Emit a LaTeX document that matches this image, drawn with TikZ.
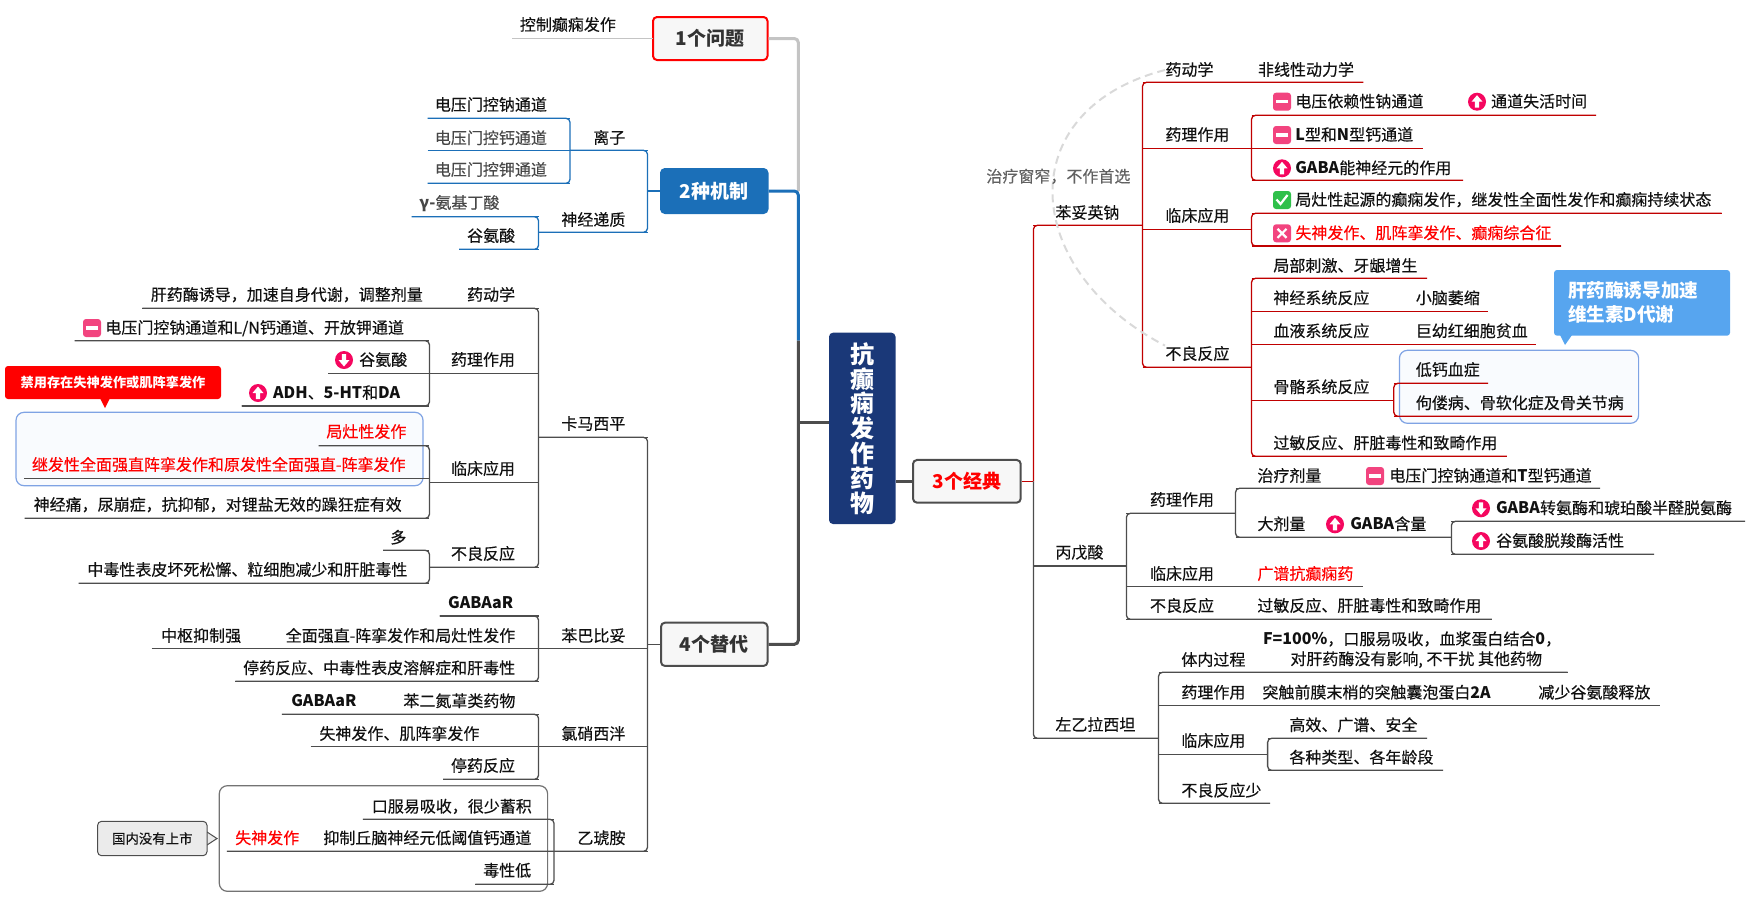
\documentclass[tikz,border=0pt]{standalone}
\usepackage{fontspec}
\setmainfont{Noto Sans CJK SC}[UprightFeatures={FakeBold=0.32}]
\usetikzlibrary{calc}
\definecolor{cBlue}{HTML}{1B6FB8}
\definecolor{cGray}{HTML}{C4C4C4}
\definecolor{cDark}{HTML}{4D4D4D}
\definecolor{cRed}{HTML}{C00000}
\definecolor{cInk}{HTML}{111111}
\definecolor{cNavy}{HTML}{1A3878}
\definecolor{cPink}{HTML}{F2447F}
\definecolor{cRose}{HTML}{F5075F}
\definecolor{cGreen}{HTML}{2FC04A}
\definecolor{cSky}{HTML}{57A5EF}
\definecolor{cEdge}{HTML}{7FA3E4}
\definecolor{cPale}{HTML}{F9FBFE}
\tikzset{
  lab/.style={anchor=west,inner sep=0pt,text=cInk,font=\fontsize{8pt}{9pt}\selectfont,text height=6.8pt,text depth=1.2pt},
  redlab/.style={lab,text=red},
  greylab/.style={lab,text=black!72},
  lnB/.style={draw=cBlue,line width=0.65pt,rounded corners=2pt},
  lnG/.style={draw=cGray,line width=0.65pt,rounded corners=2pt},
  lnD/.style={draw=cDark,line width=0.65pt,rounded corners=2pt},
  lnR/.style={draw=cRed,line width=0.65pt,rounded corners=2pt},
  tbox/.style={rectangle,rounded corners=2pt,line width=1pt,font=\fontsize{9.5pt}{11pt}\selectfont\bfseries,inner sep=0pt},
  bound/.style={rectangle,rounded corners=4pt,line width=0.6pt,inner sep=0pt},
  thick1/.style={line width=1.5pt,rounded corners=2pt}
}
% underline of a topic: two named end points and the rule between them
\newcommand{\ul}[5]{\coordinate (#1-l) at (#2,#4);\coordinate (#1-r) at (#3,#4);\draw[#5] (#1-l) -- (#1-r);}
% spine on the right end of the children (left side of the map)
\newcommand{\spL}[3]{\draw[#1] (#2-l) -- (#2-r) -- (#3-r) -- (#3-l);}
% spine on the left end of the children (right side of the map)
\newcommand{\spR}[3]{\draw[#1] (#2-r) -- (#2-l) -- (#3-l) -- (#3-r);}
\newcommand{\icMinus}[2]{\begin{scope}[shift={(#1,#2)}]\fill[cPink,rounded corners=1.5pt] (-9,-9) rectangle (9,9);\fill[white] (-6,-1.6) rectangle (6,1.6);\end{scope}}
\newcommand{\icUp}[2]{\begin{scope}[shift={(#1,#2)}]\fill[cRose] (0,0) circle[radius=9];\fill[white] (0,-6.5)--(5.5,0)--(2.2,0)--(2.2,6)--(-2.2,6)--(-2.2,0)--(-5.5,0)--cycle;\end{scope}}
\newcommand{\icDown}[2]{\begin{scope}[shift={(#1,#2)}]\fill[cRose] (0,0) circle[radius=9];\fill[white] (0,6.5)--(5.5,0)--(2.2,0)--(2.2,-6)--(-2.2,-6)--(-2.2,0)--(-5.5,0)--cycle;\end{scope}}
\newcommand{\icCheck}[2]{\begin{scope}[shift={(#1,#2)}]\fill[cGreen,rounded corners=1.5pt] (-9,-9) rectangle (9,9);\draw[white,line width=1.1pt] (-5.5,-0.5)--(-1.5,4)--(5.5,-5);\end{scope}}
\newcommand{\icCross}[2]{\begin{scope}[shift={(#1,#2)}]\fill[cPink,rounded corners=1.5pt] (-9,-9) rectangle (9,9);\draw[white,line width=1.1pt] (-4.5,-4.5)--(4.5,4.5) (-4.5,4.5)--(4.5,-4.5);\end{scope}}
\begin{document}
\begin{tikzpicture}[x=0.5pt,y=-0.5pt]
\useasboundingbox (0,0) rectangle (1748,905);
% ---------- boundaries and callouts
\node[bound,draw=cEdge,fill=cPale,minimum width=203.5pt,minimum height=36.7pt] (bndA) at (219.5,449) {};
\node[bound,draw=cEdge,fill=cPale,minimum width=119.6pt,minimum height=36.5pt] (bndB) at (1519,386.8) {};
\node[bound,draw=black!55,fill=white,minimum width=164.15pt,minimum height=52.8pt] (bndC) at (383.45,838.5) {};
\fill[red] (100,398)--(105,408)--(110,398)--cycle;
\node[rectangle,rounded corners=1.5pt,fill=red,text=white,minimum width=108pt,minimum height=16.5pt,inner sep=0pt,font=\fontsize{6.6pt}{8pt}\selectfont\bfseries] (warn) at (113,382.5) {禁用存在失神发作或肌阵挛发作};
\fill[black!8] (205,832)--(217,838.5)--(205,845)--cycle;
\draw[black!70,line width=0.5pt] (207,832)--(217,838.5)--(207,845);
\node[rectangle,rounded corners=2pt,draw=black!70,fill=black!8,line width=0.5pt,minimum width=54.7pt,minimum height=17.2pt,inner sep=0pt,text=cInk,font=\fontsize{6.7pt}{8pt}\selectfont] (note) at (152.3,838.5) {国内没有上市};
% ---------- central node and main topics
\node[rectangle,rounded corners=2pt,fill=cNavy,text=white,minimum width=33.25pt,minimum height=95.65pt,inner sep=0pt,align=center,font=\fontsize{12pt}{12.4pt}\selectfont\bfseries] (root) at (862.25,428.35) {抗\\癫\\痫\\发\\作\\药\\物};
\node[tbox,draw=red,fill=black!3,text=black!80,minimum width=57.25pt,minimum height=21.5pt] (q1) at (710.25,38.5) {1个问题};
\node[tbox,draw=cBlue,fill=cBlue,text=white,minimum width=53.25pt,minimum height=22pt] (q2) at (714.25,191) {2种机制};
\node[tbox,draw=cDark,fill=black!3,text=black!80,minimum width=53.25pt,minimum height=21.65pt] (q4) at (714.25,644.3) {4个替代};
\node[tbox,draw=cDark,fill=black!3,text=red,minimum width=53.85pt,minimum height=21.35pt] (q3) at (966.85,481.3) {3个经典};
% ---------- thick main connectors
\coordinate (hubA) at (798.3,191);
\coordinate (hubB) at (798.3,340.7);
\coordinate (hubC) at (798.3,422);
\coordinate (spineR) at (1033.4,481.3);
\draw[thick1,cGray] (q1.east) -| (hubA);
\draw[thick1,cBlue] (q2.east) -| (hubB);
\draw[thick1,cDark] (q4.east) -| (hubB);
\draw[thick1,cDark] (hubC) -- (hubC -| root.west);
\draw[thick1,cDark] (root.east |- q3.west) -- (q3.west);
% ---------- 1
\ul{aim}{512}{653}{38.3}{lnG}
\node[lab] (aimT) at (519.5,25) {控制癫痫发作};
% ---------- 2
\ul{ion}{570}{647.5}{150.3}{lnB}
\ul{neu}{538.5}{647.5}{232.3}{lnB}
\draw[lnB] (ion-l) -- (ion-r) -- (neu-r) -- (neu-l);
\draw[lnB] (q2.west) -- (q2.west -| ion-r);
\node[lab] (ionT) at (593,138) {离子};
\node[lab] (neuT) at (561,220) {神经递质};
\ul{na}{427.7}{570}{118.3}{lnB}
\ul{ca}{427.7}{570}{150.3}{lnB}
\ul{k}{427.7}{570}{183.3}{lnB}
\spL{lnB}{na}{k}
\node[lab] (naT) at (434.5,105) {电压门控钠通道};
\node[greylab] (caT) at (434.5,138.3) {电压门控钙通道};
\node[greylab] (kT) at (434.5,170) {电压门控钾通道};
\ul{gab}{411.6}{538.5}{216.7}{lnB}
\ul{glu}{459}{538.5}{249.3}{lnB}
\spL{lnB}{gab}{glu}
\node[greylab] (gabT) at (419,203) {\textbf{γ-}氨基丁酸};
\node[lab] (gluT) at (466.7,236) {谷氨酸};
% ---------- 4: spine
\ul{cbz}{538.5}{647.5}{437.3}{lnD}
\ul{pb}{151.5}{647.5}{648.3}{lnD}
\ul{czp}{310.6}{647.5}{746.3}{lnD}
\ul{etx}{226.8}{647.5}{851.3}{lnD}
\draw[lnD] (cbz-l) -- (cbz-r) -- (etx-r) -- (etx-l);
\draw[lnD] (q4.west) -- (q4.west -| cbz-r);
\node[lab] (cbzT) at (561,424) {卡马西平};
\node[lab] (pbT) at (561,636) {苯巴比妥};
\node[lab] (czpT) at (561,734) {氯硝西泮};
\node[lab] (etxT) at (577,838.3) {乙琥胺};
% carbamazepine
\ul{cPk}{142.4}{538.5}{308.3}{lnD}
\ul{cPh}{429.4}{538.5}{373.3}{lnD}
\ul{cCl}{429.4}{538.5}{482.3}{lnD}
\ul{cAd}{429.4}{538.5}{567.3}{lnD}
\spL{lnD}{cPk}{cAd}
\node[lab] (cPkA) at (466.7,295) {药动学};
\node[lab] (cPkB) at (150.4,295) {肝药酶诱导，加速自身代谢，调整剂量};
\node[lab] (cPhT) at (450.6,360) {药理作用};
\node[lab] (cClT) at (450.6,469) {临床应用};
\node[lab] (cAdT) at (450.6,554) {不良反应};
\ul{cP1}{74.6}{429.4}{340.7}{lnD}
\ul{cP2}{328.4}{429.4}{373.3}{lnD}
\ul{cP3}{241.7}{429.4}{406}{lnD}
\spL{lnD}{cP1}{cP3}
\icMinus{92}{328}
\node[lab] (cP1T) at (105,328) {电压门控钠通道和L/N钙通道、开放钾通道};
\icDown{344}{360}
\node[lab] (cP2T) at (358.8,360) {谷氨酸};
\icUp{258}{393}
\node[lab] (cP3T) at (272.7,393) {\textbf{ADH}、\textbf{5-HT}和\textbf{DA}};
\ul{cC1}{318.6}{429.4}{445.7}{lnD}
\ul{cC2}{24}{429.4}{478.3}{lnD}
\ul{cC3}{24.7}{429.4}{518.3}{lnD}
\spL{lnD}{cC1}{cC3}
\node[redlab] (cC1T) at (326,432) {局灶性发作};
\node[redlab] (cC2T) at (31.6,465) {继发性全面强直阵挛发作和原发性全面强直-阵挛发作};
\node[lab] (cC3T) at (33.3,505) {神经痛，尿崩症，抗抑郁，对锂盐无效的躁狂症有效};
\ul{cA1}{383}{429.4}{550.3}{lnD}
\ul{cA2}{78.6}{429.4}{583.3}{lnD}
\spL{lnD}{cA1}{cA2}
\node[lab] (cA1T) at (390,537.7) {多};
\node[lab] (cA2T) at (87,570) {中毒性表皮坏死松懈、粒细胞减少和肝脏毒性};
% phenobarbital
\ul{p1}{439.7}{538.5}{616}{lnD}
\ul{p3}{235.4}{538.5}{681.3}{lnD}
\spL{lnD}{p1}{p3}
\node[lab] (p1T) at (447.8,603) {\textbf{GABAaR}};
\node[lab] (p2T) at (285.3,636) {全面强直-阵挛发作和局灶性发作};
\node[lab] (p2B) at (160.7,636) {中枢抑制强};
\node[lab] (p3T) at (242.8,668.3) {停药反应、中毒性表皮溶解症和肝毒性};
% clonazepam
\ul{z1}{281.9}{538.5}{714.3}{lnD}
\ul{z3}{443}{538.5}{779.3}{lnD}
\spL{lnD}{z1}{z3}
\node[lab] (z1T) at (403,701.3) {苯二氮䓬类药物};
\node[lab] (z1B) at (291,701.3) {\textbf{GABAaR}};
\node[lab] (z2T) at (319,734) {失神发作、肌阵挛发作};
\node[lab] (z3T) at (450.6,766) {停药反应};
% ethosuximide
\ul{e1}{362.8}{554}{819.3}{lnD}
\ul{e3}{475.3}{554}{884.3}{lnD}
\spL{lnD}{e1}{e3}
\node[lab] (e1T) at (371.4,806.7) {口服易吸收，很少蓄积};
\node[lab] (e2T) at (323,838.3) {抑制丘脑神经元低阈值钙通道};
\node[redlab] (e2B) at (234.8,838.3) {失神发作};
\node[lab] (e3T) at (482.8,870.7) {毒性低};
% ---------- 3: spine
\ul{pht}{1033.4}{1142.5}{225.3}{lnR}
\ul{vpa}{1033.4}{1126.4}{566}{lnD}
\ul{lev}{1033.4}{1158.5}{738.3}{lnD}
\draw[lnR] (pht-r) -- (pht-l) -- (spineR);
\draw[lnD] (spineR) -- (lev-l) -- (lev-r);
\draw[lnR] (q3.east) -- (spineR);
\node[lab] (phtT) at (1055,213) {苯妥英钠};
\node[lab] (vpaT) at (1055,552.7) {丙戊酸};
\node[lab] (levT) at (1055,725) {左乙拉西坦};
% phenytoin
\ul{hPk}{1142.5}{1363.4}{82.3}{lnR}
\ul{hPh}{1142.5}{1251.5}{148.3}{lnR}
\ul{hCl}{1142.5}{1251.5}{229.3}{lnR}
\ul{hAd}{1142.5}{1251.5}{367.3}{lnR}
\spR{lnR}{hPk}{hAd}
\node[lab] (hPkT) at (1165,70) {药动学};
\node[lab] (hPkB) at (1257.6,70) {非线性动力学};
\node[lab] (hPhT) at (1165,135) {药理作用};
\node[lab] (hClT) at (1165,216) {临床应用};
\node[lab] (hAdT) at (1165,354) {不良反应};
\draw[black!15,line width=1pt,dashed,dash pattern=on 4pt off 2.5pt] (hPkT.west) .. controls (1010,110) and (1020,270) .. (hAdT.north west);
\node[lab,text=black!62,font=\fontsize{8pt}{9pt}\selectfont\addfontfeature{FakeBold=0}] (hNote) at (986,176.7) {治疗窗窄，不作首选};
\ul{hP1}{1251.5}{1596}{115.3}{lnR}
\ul{hP2}{1251.5}{1423}{148.3}{lnR}
\ul{hP3}{1251.5}{1463}{180.3}{lnR}
\spR{lnR}{hP1}{hP3}
\icMinus{1282}{101.7}
\node[lab] (hP1T) at (1295,101.7) {电压依赖性钠通道};
\icUp{1477}{101.7}
\node[lab] (hP1B) at (1490.7,101.7) {通道失活时间};
\icMinus{1282}{135}
\node[lab] (hP2T) at (1295,135) {\textbf{L}型和\textbf{N}型钙通道};
\icUp{1282}{168.3}
\node[lab] (hP3T) at (1295,168.3) {\textbf{GABA}能神经元的作用};
\ul{hC1}{1251.5}{1721.6}{213.3}{lnR}
\ul{hC2}{1251.5}{1561}{246}{lnR}
\spR{lnR}{hC1}{hC2}
\icCheck{1282}{200}
\node[lab] (hC1T) at (1295,200) {局灶性起源的癫痫发作，继发性全面性发作和癫痫持续状态};
\icCross{1282}{233.3}
\node[redlab] (hC2T) at (1295,233.3) {失神发作、肌阵挛发作、癫痫综合征};
\ul{hA1}{1251.5}{1427}{278.3}{lnR}
\ul{hA2}{1251.5}{1488}{311.3}{lnR}
\ul{hA3}{1251.5}{1536}{344.3}{lnR}
\ul{hA4}{1251.5}{1393.8}{400.3}{lnR}
\ul{hA5}{1251.5}{1506.8}{456.3}{lnR}
\spR{lnR}{hA1}{hA5}
\node[lab] (hA1T) at (1273,266) {局部刺激、牙龈增生};
\node[lab] (hA2T) at (1273,298.3) {神经系统反应};
\node[lab] (hA2B) at (1415.4,298.3) {小脑萎缩};
\node[lab] (hA3T) at (1273,331.3) {血液系统反应};
\node[lab] (hA3B) at (1415.4,331.3) {巨幼红细胞贫血};
\node[lab] (hA4T) at (1273,387.3) {骨骼系统反应};
\node[lab] (hA5T) at (1273,443.3) {过敏反应、肝脏毒性和致畸作用};
\ul{hB1}{1393.8}{1488}{383.3}{lnR}
\ul{hB2}{1393.8}{1632}{416.3}{lnR}
\spR{lnR}{hB1}{hB2}
\node[lab] (hB1T) at (1415.4,370) {低钙血症};
\node[lab] (hB2T) at (1415.4,403.3) {佝偻病、骨软化症及骨关节病};
\fill[cSky] (1560,335)--(1565,345)--(1572,335)--cycle;
\node[rectangle,rounded corners=1.5pt,fill=cSky,text=white,text width=74pt,inner xsep=7pt,inner ysep=0pt,minimum height=32.85pt,align=left,font=\fontsize{9.3pt}{12pt}\selectfont\bfseries] (tip) at (1642,302.85) {肝药酶诱导加速\\维生素D代谢};
% valproate
\ul{vPh}{1126.4}{1235.5}{513.3}{lnD}
\ul{vCl}{1126.4}{1363.4}{586.3}{lnD}
\ul{vAd}{1126.4}{1491.8}{619.3}{lnD}
\spR{lnD}{vPh}{vAd}
\node[lab] (vPhT) at (1149.6,500) {药理作用};
\node[lab] (vClT) at (1149.6,574) {临床应用};
\node[redlab] (vClB) at (1257,574) {广谱抗癫痫药};
\node[lab] (vAdT) at (1149.6,606) {不良反应};
\node[lab] (vAdB) at (1257,606) {过敏反应、肝脏毒性和致畸作用};
\ul{vP1}{1235.5}{1600}{488.3}{lnD}
\ul{vP2}{1235.5}{1451.4}{537.3}{lnD}
\spR{lnD}{vP1}{vP2}
\node[lab] (vP1T) at (1257,476) {治疗剂量};
\icMinus{1375}{476}
\node[lab] (vP1B) at (1389,476) {电压门控钠通道和\textbf{T}型钙通道};
\node[lab] (vP2T) at (1257,524.3) {大剂量};
\icUp{1335}{524.3}
\node[lab] (vP2B) at (1350,524.3) {\textbf{GABA}含量};
\ul{vQ1}{1451.4}{1745}{521.3}{lnD}
\ul{vQ2}{1451.4}{1654}{554.3}{lnD}
\spR{lnD}{vQ1}{vQ2}
\icDown{1481}{508.3}
\node[lab] (vQ1T) at (1495.7,508.3) {\textbf{GABA}转氨酶和琥珀酸半醛脱氨酶};
\icUp{1481}{541}
\node[lab] (vQ2T) at (1495.7,541) {谷氨酸脱羧酶活性};
% levetiracetam
\ul{lIn}{1158.5}{1567.7}{672.3}{lnD}
\ul{lPh}{1158.5}{1659.6}{705.3}{lnD}
\ul{lCl}{1158.5}{1267.6}{754.3}{lnD}
\ul{lAd}{1158.5}{1270}{803.3}{lnD}
\spR{lnD}{lIn}{lAd}
\node[lab] (lInT) at (1181,660) {体内过程};
\node[lab] (lInA) at (1262.6,639.3) {\textbf{F=100\%}，口服易吸收，血浆蛋白结合\textbf{0}，};
\node[lab] (lInB) at (1290,659.3) {对肝药酶没有影响, 不干扰 其他药物};
\node[lab] (lPhT) at (1181,692.7) {药理作用};
\node[lab] (lPhA) at (1262,692.7) {突触前膜末梢的突触囊泡蛋白\textbf{2A}};
\node[lab] (lPhB) at (1538,692.7) {减少谷氨酸释放};
\node[lab] (lClT) at (1181,741) {临床应用};
\node[lab] (lAdT) at (1181,790.7) {不良反应少};
\ul{lC1}{1267.6}{1427}{738.3}{lnD}
\ul{lC2}{1267.6}{1443}{770.3}{lnD}
\spR{lnD}{lC1}{lC2}
\node[lab] (lC1T) at (1289,725.3) {高效、广谱、安全};
\node[lab] (lC2T) at (1289,757.7) {各种类型、各年龄段};
\end{tikzpicture}
\end{document}
